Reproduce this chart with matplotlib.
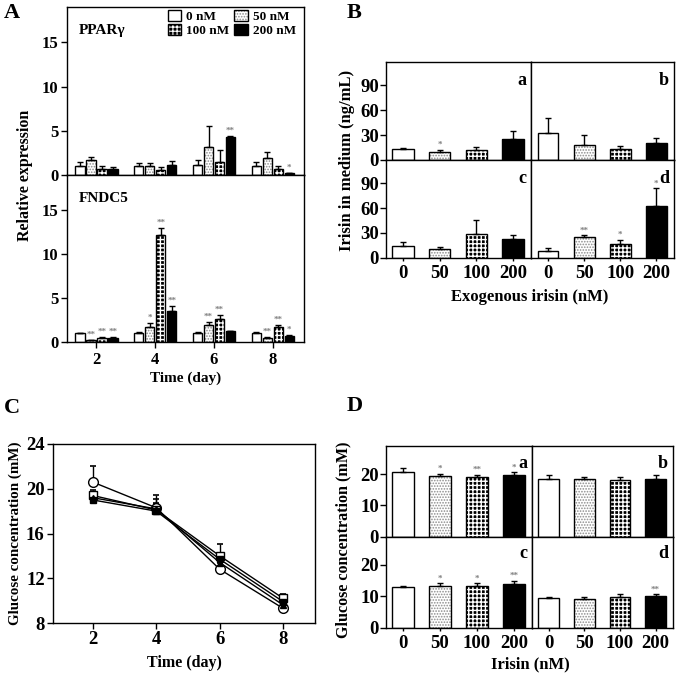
"""Four-panel figure: gene expression, irisin in medium and glucose concentration"""

import numpy as np
import matplotlib.pyplot as plt
from matplotlib.legend_handler import HandlerTuple

plt.rcParams['font.family'] = ['Liberation Serif', 'DejaVu Serif']
plt.rcParams['font.weight'] = 'bold'
plt.rcParams['axes.labelweight'] = 'bold'
plt.rcParams['hatch.linewidth'] = 0.8
plt.rcParams['axes.linewidth'] = 1.0

#shared categories
days = [2, 4, 6, 8]
doses = ['0 nM', '50 nM', '100 nM', '200 nM']
dose_ticks = ['0', '50', '100', '200']

#A: relative expression, one row per dose, one value per day
ppar_mean = [[1.05, 1.0, 1.14, 1.06],
             [1.64, 1.0, 3.2, 1.9],
             [0.72, 0.53, 1.44, 0.64],
             [0.72, 1.15, 4.35, 0.19]]
ppar_err = [[0.4, 0.4, 0.57, 0.42],
            [0.45, 0.4, 2.3, 0.65],
            [0.3, 0.35, 1.4, 0.35],
            [0.2, 0.4, 0.1, 0.05]]
ppar_stars = [['', '', '', ''], ['', '', '', ''], ['', '', '', ''], ['', '', '**', '*']]

fndc_mean = [[1.02, 1.0, 1.0, 1.0],
             [0.2, 1.74, 1.97, 0.5],
             [0.45, 12.16, 2.65, 1.75],
             [0.5, 3.56, 1.2, 0.7]]
fndc_err = [[0.05, 0.1, 0.1, 0.1],
            [0.05, 0.4, 0.25, 0.1],
            [0.1, 0.85, 0.45, 0.2],
            [0.1, 0.5, 0.1, 0.05]]
fndc_stars = [['', '', '', ''], ['**', '*', '**', '**'],
              ['**', '**', '**', '**'], ['**', '**', '', '*']]

#B: irisin in medium (ng/mL), sub-panels a-d, one value per dose
irisin_mean = {'a': [13.0, 10.1, 11.7, 24.7], 'b': [32.8, 18.6, 13.8, 20.6],
               'c': [14.5, 10.5, 28.6, 23.0], 'd': [7.7, 25.0, 17.0, 62.5]}
irisin_err = {'a': [1.6, 2.0, 4.5, 10.0], 'b': [17.8, 11.4, 3.2, 6.1],
              'c': [4.9, 2.8, 17.4, 4.0], 'd': [4.0, 2.0, 4.8, 21.4]}
irisin_stars = {'a': ['', '*', '', ''], 'b': ['', '', '', ''],
                'c': ['', '', '', ''], 'd': ['', '**', '*', '*']}

#C: glucose over time, one series per dose
glucose_mean = [[20.6, 18.3, 12.8, 9.3],
                [19.4, 18.1, 14.0, 10.2],
                [19.0, 18.0, 13.7, 9.9],
                [19.2, 18.2, 13.4, 9.6]]
glucose_err = [[1.4, 1.1, 0.3, 0.3],
               [0.5, 1.0, 1.1, 0.4],
               [0.4, 0.6, 0.5, 0.3],
               [0.4, 0.5, 0.4, 0.3]]

#D: glucose concentration (mM), sub-panels a-d
glu_mean = {'a': [20.6, 19.25, 19.0, 19.7], 'b': [18.4, 18.4, 18.1, 18.4],
            'c': [12.9, 13.4, 13.4, 14.0], 'd': [9.4, 9.3, 9.9, 10.2]}
glu_err = {'a': [1.5, 0.9, 0.8, 0.9], 'b': [1.3, 0.6, 1.1, 1.2],
           'c': [0.3, 0.7, 0.7, 1.0], 'd': [0.5, 0.6, 0.7, 0.4]}
glu_stars = {'a': ['', '*', '**', '*'], 'b': ['', '', '', ''],
             'c': ['', '*', '*', '**'], 'd': ['', '', '', '**']}

#fill style for each dose: face colour, hatch, hatch colour, hatch width
fills = [('white', None, 'black', 0.8),
         ('white', '......', '#8c8c8c', 0.8),
         ('black', '++++', 'white', 1.0),
         ('black', None, 'black', 0.8)]

W, H = 683, 678
fig = plt.figure(figsize=(W / 100, H / 100), dpi=100)


def px_axes(left, top, right, bottom):
    """make axes from pixel box"""
    return fig.add_axes([left / W, 1 - bottom / H, (right - left) / W, (bottom - top) / H])


def dose_bars(ax, x, heights, errs, dose, width, stars, gap):
    """draw one dose's bars with outline, upward error bars and stars"""
    face, hatch, hcol, hlw = fills[dose]
    with plt.rc_context({'hatch.linewidth': hlw}):
        b1 = ax.bar(x, heights, width, color=face, edgecolor=hcol, hatch=hatch, linewidth=0)
    for p in b1:
        if hasattr(p, 'set_hatch_linewidth'):
            p.set_hatch_linewidth(hlw)
    b2 = ax.bar(x, heights, width, fill=False, edgecolor='black', linewidth=1.0)
    ax.errorbar(x, heights, yerr=[np.zeros(len(errs)), errs], fmt='none', ecolor='black',
                elinewidth=1.0, capsize=2.5, capthick=1.0)
    for xi, h, e, s in zip(x, heights, errs, stars):
        if s:
            ax.text(xi, h + e + gap, s, ha='center', va='bottom', fontsize=6.5, color='#808080')
    return (b1, b2)


#panel A
ax_top = px_axes(67, 7, 304, 175)
ax_bot = px_axes(67, 175, 304, 342)
handles = []
for ax, means, errs, stars, name in [(ax_top, ppar_mean, ppar_err, ppar_stars, 'PPARγ'),
                                     (ax_bot, fndc_mean, fndc_err, fndc_stars, 'FNDC5')]:
    for i in range(4):
        xs = [d + (i - 1.5) * 0.373 for d in days]
        h = dose_bars(ax, xs, means[i], errs[i], i, 0.32, stars[i], 0.15)
        if ax is ax_top:
            handles.append(h)
    ax.set_xlim(1, 9.06)
    ax.set_ylim(0, 19)
    ax.set_yticks([0, 5, 10, 15])
    ax.tick_params(axis='y', labelsize=12, direction='out', length=4, width=1, pad=2)
    ax.text(0.05, 0.9, name, transform=ax.transAxes, fontsize=11, va='top', ha='left')
ax_top.set_xticks([])
ax_bot.set_xticks(days)
ax_bot.tick_params(axis='x', labelsize=12, direction='out', length=4, width=1)
ax_bot.set_xlabel('Time (day)', fontsize=11, labelpad=2)
order = [0, 2, 1, 3]
ax_top.legend([handles[k] for k in order], [doses[k] for k in order], ncol=2,
              handler_map={tuple: HandlerTuple(ndivide=1, pad=0)},
              loc='upper right', bbox_to_anchor=(1.0, 1.03), frameon=False, fontsize=9.5,
              handlelength=1.0, handleheight=0.9, handletextpad=0.4, columnspacing=0.4,
              labelspacing=0.1, borderaxespad=0.2)
fig.text(25 / W, 1 - 175 / H, 'Relative expression', rotation=90, ha='center', va='center',
         fontsize=11.5)


def quad_panel(boxes, means, errs, stars, ylim, yticks, gap):
    """four joined sub-panels a-d of bars"""
    for key, box in zip('abcd', boxes):
        ax = px_axes(*box)
        xs = np.arange(4)
        for i in range(4):
            dose_bars(ax, [xs[i]], [means[key][i]], [errs[key][i]], i, 0.58, [stars[key][i]], gap)
        ax.set_xlim(-0.47, 3.49)
        ax.set_ylim(*ylim)
        ax.text(0.965, 0.81, key, transform=ax.transAxes, ha='right', va='center', fontsize=13)
        if key in 'ac':
            ax.set_yticks(yticks)
            ax.tick_params(axis='y', labelsize=13.5, direction='out', length=4, width=1, pad=1)
        else:
            ax.set_yticks([])
        if key in 'cd':
            ax.set_xticks(xs)
            ax.set_xticklabels(dose_ticks)
            ax.tick_params(axis='x', labelsize=13.5, direction='out', length=2, width=1)
        else:
            ax.set_xticks([])


#panel B
quad_panel([(385.7, 62, 531, 160), (531, 62, 674, 160),
            (385.7, 160, 531, 257.7), (531, 160, 674, 257.7)],
           irisin_mean, irisin_err, irisin_stars, (0, 118), [0, 30, 60, 90], 1.0)
fig.text(347 / W, 1 - 160 / H, 'Irisin in medium (ng/mL)', rotation=90, ha='center',
         va='center', fontsize=12)
fig.text(530 / W, 1 - 297 / H, 'Exogenous irisin (nM)', ha='center', va='center', fontsize=12)

#panel C
ax_c = px_axes(53, 444, 315, 623)
markers = [('o', 'white', 7), ('s', 'white', 5.5), ('s', 'black', 4.5), ('^', 'black', 4.5)]
for i in range(4):
    m, mf, ms = markers[i]
    ax_c.errorbar(days, glucose_mean[i], yerr=[np.zeros(4), glucose_err[i]], color='black',
                  marker=m, markerfacecolor=mf, markeredgecolor='black', markersize=ms,
                  linewidth=1.0, elinewidth=1.0, capsize=2, capthick=1.2)
ax_c.set_xlim(0.75, 9.0)
ax_c.set_ylim(8, 24)
ax_c.set_xticks(days)
ax_c.set_yticks([8, 12, 16, 20, 24])
ax_c.tick_params(labelsize=13.5, direction='out', length=4, width=1, pad=2)
ax_c.set_xlabel('Time (day)', fontsize=11.5, labelpad=5)
ax_c.set_ylabel('Glucose concentration (mM)', fontsize=10.8)
ax_c.yaxis.set_label_coords((22 - 53) / 262, 0.5)

#panel D
quad_panel([(385.7, 446, 532, 536.7), (532, 446, 673, 536.7),
            (385.7, 536.7, 532, 627.7), (532, 536.7, 673, 627.7)],
           glu_mean, glu_err, glu_stars, (0, 29), [0, 10, 20], 0.2)
fig.text(343 / W, 1 - 540 / H, 'Glucose concentration (mM)', rotation=90, ha='center',
         va='center', fontsize=11.6)
fig.text(530 / W, 1 - 664 / H, 'Irisin (nM)', ha='center', va='center', fontsize=12)

#panel letters
for letter, (px, py) in {'A': (4, 13), 'B': (347, 13), 'C': (4, 408), 'D': (347, 406)}.items():
    fig.text(px / W, 1 - py / H, letter, fontsize=16, ha='left', va='center')

fig.savefig('out.png', dpi=100)
